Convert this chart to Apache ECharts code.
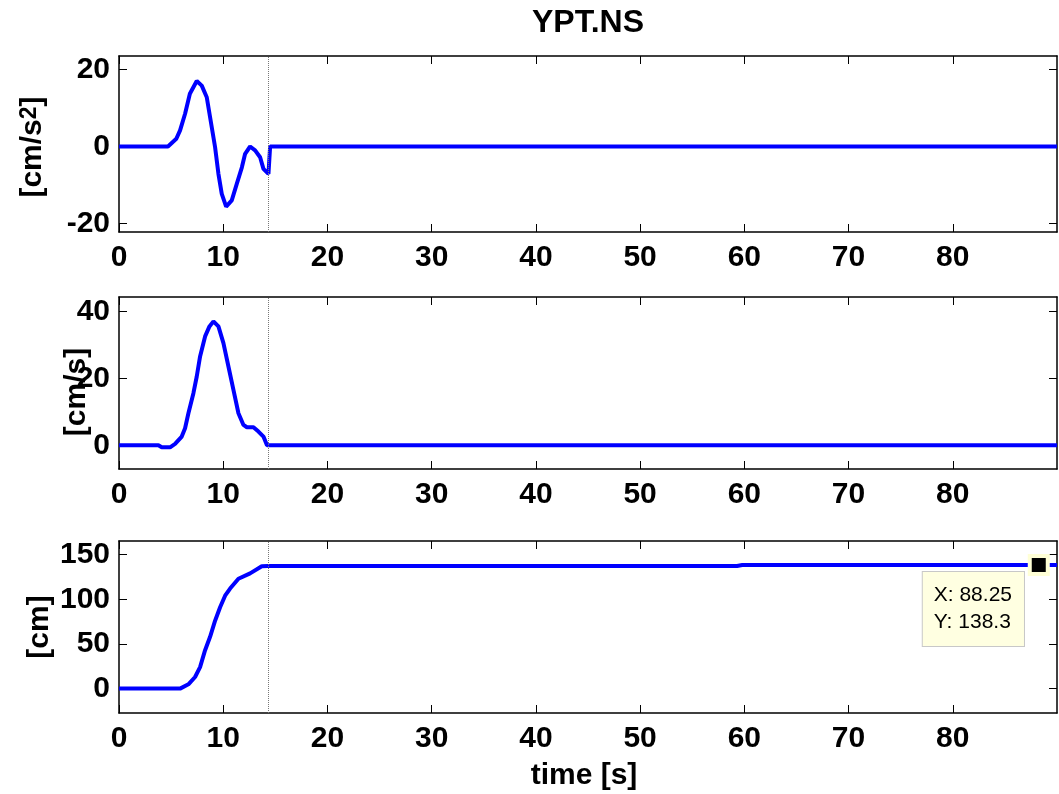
<!DOCTYPE html>
<html><head><meta charset="utf-8">
<script src="https://cdn.jsdelivr.net/npm/echarts@6/dist/echarts.min.js"></script>
<style>html,body{margin:0;padding:0;background:#fff}#c{width:1059px;height:794px}</style>
</head><body><div id="c"></div>
<script>
// ---- data ----
const titleText = 'YPT.NS';
const xName = 'time [s]';
const accT = [0, 4.7, 5.5, 5.86, 6.34, 6.8, 7.46, 7.94, 8.42, 8.74, 9.22, 9.54, 9.86, 10.28, 10.82, 11.3, 11.79, 12.1, 12.58, 13.06, 13.54, 13.86, 14.34, 14.5, 90];
const accV = [0, 0, 2.0, 4.2, 8.5, 13.7, 17.0, 15.8, 12.8, 7.6, -0.2, -7.1, -12.3, -15.6, -14.0, -9.7, -5.4, -1.9, 0, -1.0, -2.8, -5.8, -7.1, 0, 0];
const velT = [0, 3.78, 4.1, 4.9, 5.38, 6.02, 6.34, 6.66, 7.14, 7.46, 7.78, 8.26, 8.68, 9.06, 9.54, 10.02, 10.5, 10.98, 11.46, 11.94, 12.27, 12.9, 13.38, 13.86, 14.2, 90];
const velV = [0, 0, -0.6, -0.6, 0.4, 2.6, 5.1, 9.6, 15.6, 20.6, 26.6, 32.6, 35.6, 37.1, 35.6, 30.6, 23.6, 16.6, 9.6, 6.1, 5.4, 5.4, 4.1, 2.6, 0, 0];
const dispT = [0, 5.86, 6.66, 7.3, 7.78, 8.26, 8.74, 9.22, 9.7, 10.18, 10.66, 11.46, 12.58, 13.7, 14.3, 59.3, 59.8, 90];
const dispV = [0, 0, 4.8, 13, 24, 43, 58, 76, 91, 104, 112, 123, 129, 137, 137.2, 137.2, 138.3, 138.3];
const xTicks = [0, 10, 20, 30, 40, 50, 60, 70, 80];
const accTicks = [-20, 0, 20];
const velTicks = [0, 20, 40];
const dispTicks = [0, 50, 100, 150];
const cutTime = 14.3;
const tipX = [88.25];
const tipY = [138.3];

// ---- chart ----
const FONT = '"Liberation Sans", Arial, Helvetica, sans-serif';
const pairs = (t, v) => t.map((x, i) => [x, v[i]]);
const gridDefs = [{top: 56, height: 176}, {top: 297, height: 172}, {top: 541, height: 172}];
const yRanges = [[-22.2, 23.5], [-7.1, 44.4], [-27.3, 165.2]];
const yTickSets = [accTicks, velTicks, dispTicks];
const seriesData = [pairs(accT, accV), pairs(velT, velV), pairs(dispT, dispV)];

const axisLine = {show: true, onZero: false, lineStyle: {color: '#000', width: 1.5}};
const labelStyle = {color: '#000', fontSize: 30, fontWeight: 'bold', fontFamily: FONT};

const grid = [], xAxis = [], yAxis = [], series = [];
gridDefs.forEach((g, i) => {
  grid.push({left: 119, width: 938, top: g.top, height: g.height, containLabel: false});
  xAxis.push({type: 'value', gridIndex: i, position: 'bottom', min: 0, max: 90,
    axisLine, splitLine: {show: false},
    axisTick: {show: true, inside: true, length: 8, customValues: xTicks, lineStyle: {color: '#000', width: 1}},
    axisLabel: Object.assign({margin: 11, customValues: xTicks}, labelStyle)});
  xAxis.push({type: 'value', gridIndex: i, position: 'top', min: 0, max: 90,
    axisLine, splitLine: {show: false},
    axisTick: {show: true, inside: true, length: 8, customValues: xTicks, lineStyle: {color: '#000', width: 1}},
    axisLabel: {show: false}});
  yAxis.push({type: 'value', gridIndex: i, position: 'left', min: yRanges[i][0], max: yRanges[i][1],
    axisLine, splitLine: {show: false},
    axisTick: {show: true, inside: true, length: 8, customValues: yTickSets[i], lineStyle: {color: '#000', width: 1}},
    axisLabel: Object.assign({margin: 9, customValues: yTickSets[i]}, labelStyle)});
  yAxis.push({type: 'value', gridIndex: i, position: 'right', min: yRanges[i][0], max: yRanges[i][1],
    axisLine, splitLine: {show: false},
    axisTick: {show: true, inside: true, length: 8, customValues: yTickSets[i], lineStyle: {color: '#000', width: 1}},
    axisLabel: {show: false}});
  series.push({type: 'line', xAxisIndex: 2 * i, yAxisIndex: 2 * i, data: seriesData[i],
    showSymbol: false, symbol: 'none', clip: true,
    lineStyle: {color: '#0000ff', width: 4}, z: 3,
    markLine: {silent: true, symbol: 'none', label: {show: false},
      lineStyle: {color: '#777', type: 'dotted', width: 1},
      data: [{xAxis: cutTime}]}});
});
series.push({type: 'scatter', xAxisIndex: 4, yAxisIndex: 4, z: 10,
  data: tipX.map((x, i) => [x, tipY[i]]),
  symbol: 'rect', symbolSize: 18,
  itemStyle: {color: '#000', borderColor: '#ffffd6', borderWidth: 4, opacity: 1},
  label: {show: true, position: [-105, 18],
    formatter: p => 'X: ' + p.value[0] + '\nY: ' + p.value[1],
    backgroundColor: '#ffffe1', borderColor: '#c8c8c8', borderWidth: 1,
    padding: [10, 12, 10, 11], fontSize: 21, lineHeight: 27, color: '#000', fontFamily: FONT}});

const nameFont = {fontSize: 30, fontWeight: 'bold', fontFamily: FONT, fill: '#000'};
const option = {
  animation: false,
  backgroundColor: '#fff',
  grid, xAxis, yAxis, series,
  graphic: [
    {type: 'text', x: 588, y: 23, style: Object.assign({text: titleText, align: 'center', verticalAlign: 'middle'}, nameFont, {fontSize: 32})},
    {type: 'text', x: 584, y: 776, style: Object.assign({text: xName, align: 'center', verticalAlign: 'middle'}, nameFont)},
    {type: 'text', x: 33, y: 147, rotation: Math.PI / 2,
      style: {text: '{n|[cm/s}{s|2}{n|]}', align: 'center', verticalAlign: 'middle', fill: '#000',
        rich: {n: {fontSize: 30, fontWeight: 'bold', fontFamily: FONT, fill: '#000'},
               s: {fontSize: 23, fontWeight: 'bold', fontFamily: FONT, fill: '#000', verticalAlign: 'top'}}}},
    {type: 'text', x: 77, y: 392, rotation: Math.PI / 2, style: Object.assign({text: '[cm/s]', align: 'center', verticalAlign: 'middle'}, nameFont)},
    {type: 'text', x: 40, y: 627, rotation: Math.PI / 2, style: Object.assign({text: '[cm]', align: 'center', verticalAlign: 'middle'}, nameFont)}
  ]
};
const chart = echarts.init(document.getElementById('c'), null, {renderer: 'canvas'});
chart.setOption(option);
</script></body></html>
